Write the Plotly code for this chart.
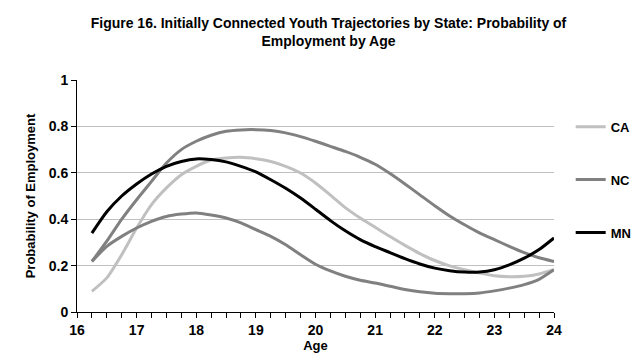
"""
Figure 16 - probability of employment by age, by state
"""

import plotly.graph_objects as go

ages = [16.25, 16.5, 16.75, 17, 17.25, 17.5, 17.75, 18, 18.25, 18.5, 18.75, 19,
        19.25, 19.5, 19.75, 20, 20.25, 20.5, 20.75, 21, 21.25, 21.5, 21.75, 22,
        22.25, 22.5, 22.75, 23, 23.25, 23.5, 23.75, 24]

ca = [0.089, 0.147, 0.247, 0.362, 0.463, 0.535, 0.592, 0.628, 0.655, 0.664, 0.667, 0.661,
      0.649, 0.628, 0.599, 0.556, 0.504, 0.450, 0.405, 0.365, 0.325, 0.287, 0.252, 0.222,
      0.199, 0.182, 0.168, 0.156, 0.152, 0.154, 0.164, 0.182]
nc = [0.218, 0.305, 0.40, 0.484, 0.563, 0.642, 0.70, 0.736, 0.762, 0.779, 0.785, 0.786,
      0.782, 0.772, 0.756, 0.736, 0.714, 0.692, 0.667, 0.637, 0.597, 0.552, 0.505, 0.458,
      0.414, 0.376, 0.341, 0.312, 0.283, 0.256, 0.234, 0.218]
nc_low = [0.218, 0.283, 0.326, 0.362, 0.391, 0.412, 0.422, 0.427, 0.418, 0.405, 0.384, 0.355,
          0.326, 0.29, 0.247, 0.206, 0.177, 0.154, 0.137, 0.125, 0.111, 0.097, 0.087, 0.081,
          0.079, 0.079, 0.082, 0.091, 0.103, 0.118, 0.141, 0.182]
mn = [0.34, 0.432, 0.50, 0.552, 0.595, 0.628, 0.649, 0.660, 0.657, 0.647, 0.628, 0.604,
      0.57, 0.533, 0.491, 0.443, 0.394, 0.350, 0.312, 0.282, 0.256, 0.230, 0.207, 0.189,
      0.178, 0.172, 0.172, 0.182, 0.203, 0.232, 0.269, 0.319]

FONT = "Liberation Sans, Arial, sans-serif"

fig = go.Figure()

# series: (name, values, colour, in legend)
series = [
    ("<b>CA</b>", ca, "#c0c0c0", True),
    ("<b>NC</b>", nc, "#808080", True),
    ("<b>NC</b> ", nc_low, "#808080", False),
    ("<b>MN</b>", mn, "#000000", True),
]

for i, (name, vals, col, show) in enumerate(series):
    fig.add_trace(go.Scatter(
        x=ages,
        y=vals,
        mode="lines",
        name=name,
        legendgroup=f"g{i}",
        showlegend=show,
        line=dict(color=col, width=3, shape="spline", smoothing=0.6),
    ))

fig.update_layout(
    width=641,
    height=357,
    margin=dict(l=69, r=88, t=72, b=53),
    paper_bgcolor="white",
    plot_bgcolor="white",
    font=dict(family=FONT, size=13, color="black"),
    title=dict(
        text="<b>Figure 16. Initially Connected Youth Trajectories by State: Probability of<br>Employment by Age</b>",
        x=0.5,
        xanchor="center",
        y=0.945,
        yanchor="top",
        font=dict(family=FONT, size=14, color="black"),
    ),
    legend=dict(
        x=1.035,
        xanchor="left",
        y=0.57,
        yanchor="middle",
        tracegroupgap=33,
        font=dict(family=FONT, size=13, color="black"),
        itemwidth=30,
    ),
    showlegend=True,
)

fig.update_xaxes(
    range=[16, 24],
    tickmode="linear",
    tick0=16,
    dtick=1,
    ticks="outside",
    ticklen=5,
    tickcolor="black",
    tickfont=dict(family=FONT, size=14),
    tickprefix="<b>",
    ticksuffix="</b>",
    minor=dict(dtick=0.25, ticks="outside", ticklen=5, tickcolor="black"),
    showline=True,
    linecolor="black",
    linewidth=1,
    showgrid=False,
    zeroline=False,
    title=dict(text="<b>Age</b>", standoff=0, font=dict(family=FONT, size=13)),
)

fig.update_yaxes(
    range=[0, 1],
    tickmode="linear",
    tick0=0,
    dtick=0.2,
    ticks="outside",
    ticklen=5,
    tickcolor="black",
    tickfont=dict(family=FONT, size=14),
    tickprefix="<b>",
    ticksuffix="</b>",
    showline=True,
    linecolor="black",
    linewidth=1,
    showgrid=True,
    gridcolor="#c0c0c0",
    gridwidth=1,
    zeroline=False,
    title=dict(text="<b>Probability of Employment</b>", standoff=10, font=dict(family=FONT, size=13)),
)

fig.write_html("out.html")
